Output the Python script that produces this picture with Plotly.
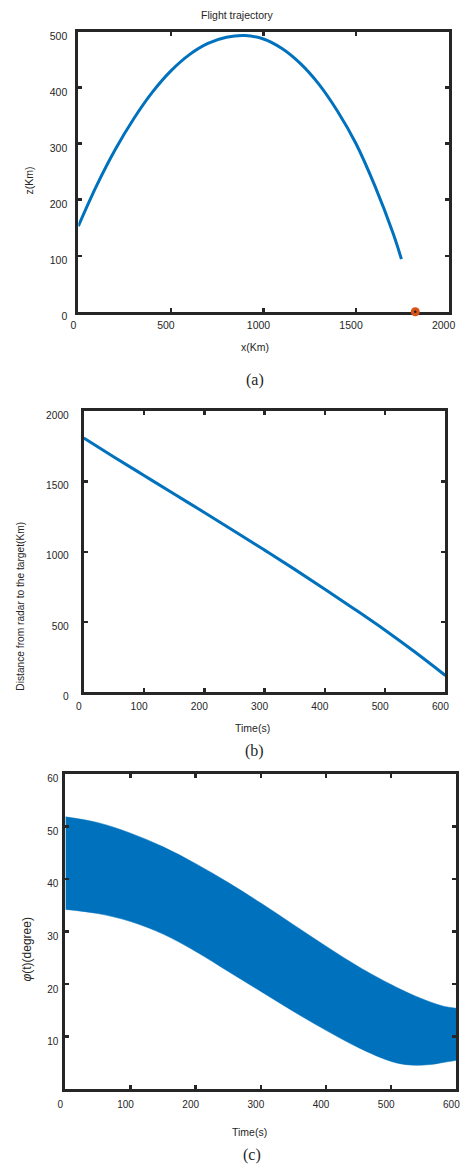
import plotly.graph_objects as go

# ---------------- data ----------------
# (a) flight trajectory
traj_x = [0, 100, 200, 300, 400, 500, 600, 700, 800, 900, 1000, 1100, 1200, 1300, 1400, 1500, 1600, 1700, 1745]
traj_z = [153, 226, 290, 345, 392, 430, 459, 479, 490, 493, 487, 470, 443, 406, 358, 300, 226, 140, 94]
radar_x = [1820]
radar_z = [0]

# (b) distance from radar to target
time_b = [0, 50, 100, 150, 200, 250, 300, 350, 400, 450, 500, 550, 600]
dist_b = [1810, 1675, 1543, 1411, 1280, 1147, 1012, 875, 734, 590, 442, 285, 120]

# (c) phi(t) oscillation envelope
time_c = [0, 50, 100, 150, 200, 250, 300, 350, 400, 450, 500, 530, 560, 580, 600]
phi_upper = [51.8, 50.7, 48.7, 46.1, 42.9, 39.3, 35.4, 31.3, 27.2, 23.3, 19.9, 18.1, 16.6, 15.8, 15.4]
phi_lower = [34.2, 33.4, 31.9, 29.5, 26.2, 22.4, 18.6, 14.8, 11.2, 7.9, 5.3, 4.6, 4.7, 5.1, 5.5]

x_ticks_a = [0, 500, 1000, 1500, 2000]
y_ticks_a = [0, 100, 200, 300, 400, 500]
x_ticks_b = [0, 100, 200, 300, 400, 500, 600]
y_ticks_b = [0, 500, 1000, 1500, 2000]
x_ticks_c = [0, 100, 200, 300, 400, 500, 600]
y_ticks_c = [10, 20, 30, 40, 50, 60]

# ---------------- figure ----------------
W, H = 465, 1174
BLUE = "#0072BD"
ORANGE = "#D95319"
AX = "#262626"

def px(x):
    return x / W

def py(y):
    return 1 - y / H

fig = go.Figure()

fig.add_trace(go.Scatter(x=traj_x, y=traj_z, mode="lines", line=dict(color=BLUE, width=3),
                         line_shape="spline", xaxis="x", yaxis="y", showlegend=False))
fig.add_trace(go.Scatter(x=radar_x, y=radar_z, mode="markers", cliponaxis=False,
                         marker=dict(color=ORANGE, size=9, line=dict(width=0)),
                         xaxis="x", yaxis="y", showlegend=False))
fig.add_trace(go.Scatter(x=radar_x, y=radar_z, mode="markers", cliponaxis=False,
                         marker=dict(color="#202020", size=2.5, line=dict(width=0)),
                         xaxis="x", yaxis="y", showlegend=False))

fig.add_trace(go.Scatter(x=time_b, y=dist_b, mode="lines", line=dict(color=BLUE, width=3),
                         line_shape="spline", xaxis="x2", yaxis="y2", showlegend=False))

fig.add_trace(go.Scatter(x=time_c, y=phi_lower, mode="lines",
                         line=dict(color=BLUE, width=0.5, shape="spline"),
                         xaxis="x3", yaxis="y3", showlegend=False))
fig.add_trace(go.Scatter(x=time_c, y=phi_upper, mode="lines", fill="tonexty", fillcolor=BLUE,
                         line=dict(color=BLUE, width=0.5, shape="spline"),
                         xaxis="x3", yaxis="y3", showlegend=False))


def axis(domain, rng, ticks, anchor, fs, shift=0):
    return dict(domain=domain, range=rng, tickvals=ticks, ticktext=[str(t) for t in ticks],
                anchor=anchor, showgrid=False, zeroline=False, showline=True, linecolor=AX,
                linewidth=3, mirror="ticks", ticks="inside", ticklen=4, tickwidth=2.5,
                tickcolor=AX, tickfont=dict(family="Liberation Sans, Arial", size=fs, color=AX),
                ticklabelshift=shift, fixedrange=True)

xa = axis([px(72.7), px(455.3)], [0, 2000], x_ticks_a, "y", 10.5, -5)
ya = axis([py(314), py(31)], [0, 500], y_ticks_a, "x", 10.5, 5)
xb = axis([px(78.3), px(452)], [0, 600], x_ticks_b, "y2", 10.2, -5)
yb = axis([py(698.5), py(414.5)], [0, 2000], y_ticks_b, "x2", 10.2, 4)
xc = axis([px(59.3), px(463.3)], [0, 600], x_ticks_c, "y3", 10, -5)
yc = axis([py(1099.5), py(780.7)], [0, 60], y_ticks_c, "x3", 10, 5)
xa["layer"] = "below traces"
ya["ticklabelstandoff"] = 6
yb["ticklabelstandoff"] = 10
yc["ticklabelstandoff"] = 2
xa["ticklabelstandoff"] = 2
xb["ticklabelstandoff"] = 2
xc["ticklabelstandoff"] = 4

fig.update_layout(
    width=W, height=H, margin=dict(l=0, r=0, t=0, b=0),
    paper_bgcolor="white", plot_bgcolor="white",
    xaxis=xa, yaxis=ya, xaxis2=xb, yaxis2=yb, xaxis3=xc, yaxis3=yc,
)

SANS = "Liberation Sans, Arial"
SERIF = "Liberation Serif, Times New Roman"


def note(text, x, y, size, family=SANS, angle=0):
    fig.add_annotation(text=text, x=px(x), y=py(y), xref="paper", yref="paper",
                       showarrow=False, textangle=angle, xanchor="center", yanchor="middle",
                       font=dict(family=family, size=size, color=AX))

note("Flight trajectory", 237.5, 14, 10.5)
note("x(Km)", 255, 350, 10.5)
note("z(Km)", 22, 181, 10.5, angle=-90)
note("(a)", 255, 383, 16, SERIF)

note("Distance from radar to the target(Km)", 13.3, 611, 10.2, angle=-90)
note("Time(s)", 253, 735, 10.5)
note("(b)", 255, 758, 16, SERIF)

note("<i>φ</i>(t)(degree)", 20, 958, 12, angle=-90)
note("Time(s)", 250, 1143, 10.5)
note("(c)", 252, 1166, 16, SERIF)

fig.write_html(
    "out.html",
    config={"displayModeBar": False, "staticPlot": True},
    post_script="document.body.style.margin='0';document.body.style.overflow='hidden';",
)
